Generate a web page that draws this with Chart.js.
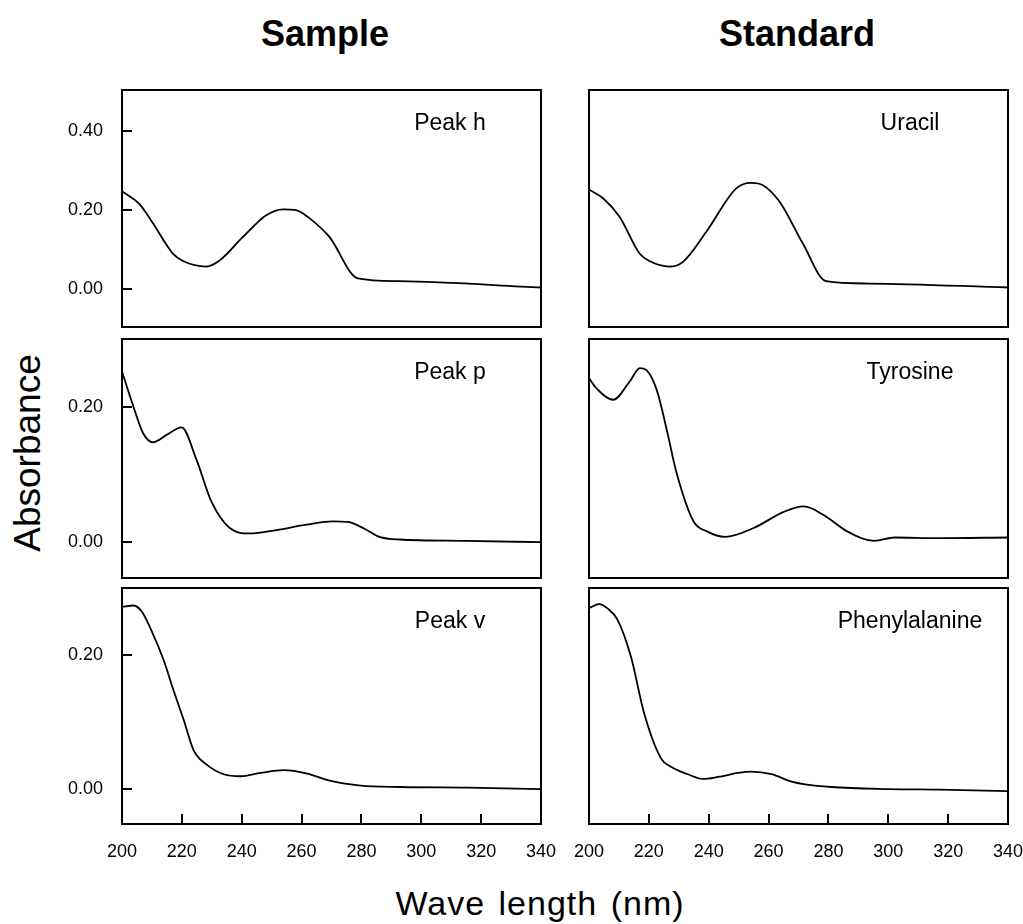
<!DOCTYPE html>
<html><head><meta charset="utf-8">
<script src="https://cdn.jsdelivr.net/npm/chart.js@4.4.1/dist/chart.umd.min.js"></script>
<style>
html,body{margin:0;padding:0;background:#fff;}
#wrap{position:relative;width:1023px;height:924px;overflow:hidden;font-family:"Liberation Sans",Arial,Helvetica,sans-serif;color:#000;background:#fff;}
canvas{position:absolute;left:0;top:0;}
.t{position:absolute;white-space:nowrap;}
</style></head><body><div id="wrap">
<div class="t" style="left:325px;top:15.5px;transform:translateX(-50%);font-size:36px;line-height:36px;font-weight:bold;">Sample</div>
<div class="t" style="left:797px;top:15.5px;transform:translateX(-50%);font-size:36px;line-height:36px;font-weight:bold;">Standard</div>
<div class="t" style="left:26.5px;top:453px;transform:translate(-50%,-50%) rotate(-90deg);font-size:37px;line-height:37px;">Absorbance</div>
<div class="t" style="left:540px;top:886px;transform:translateX(-50%);font-size:34px;line-height:34px;letter-spacing:1px;word-spacing:3px;">Wave length (nm)</div>
</div>
<script>
// ---- data ----
const panelLabels = ["Peak h", "Uracil", "Peak p", "Tyrosine", "Peak v", "Phenylalanine"];
const xTickValues = [200, 220, 240, 260, 280, 300, 320, 340];
const yTicksTop = [0.00, 0.20, 0.40];
const yTicksLower = [0.00, 0.20];

const peakH_x = [200, 206, 210.4, 217, 220.4, 228.2, 232.7, 240.4, 248.2, 253.8, 258.2, 262.7, 269.3, 278.8, 292.7, 340];
const peakH_y = [0.248, 0.214, 0.166, 0.090, 0.071, 0.057, 0.073, 0.132, 0.187, 0.202, 0.200, 0.179, 0.132, 0.027, 0.020, 0.004];

const uracil_x = [200, 204.7, 210.2, 216.9, 220.2, 226.9, 231.4, 239.2, 249.2, 254.2, 258.1, 263.7, 271.4, 279.2, 293.7, 340];
const uracil_y = [0.252, 0.230, 0.183, 0.090, 0.071, 0.057, 0.069, 0.145, 0.255, 0.269, 0.263, 0.221, 0.116, 0.020, 0.014, 0.004];

const peakP_x = [200, 203.8, 207.1, 210.4, 214.9, 219.9, 224.9, 229.9, 236, 242.7, 251.6, 261.6, 270.4, 275.5, 281, 286, 292.7, 314.9, 340];
const peakP_y = [0.253, 0.201, 0.161, 0.148, 0.159, 0.170, 0.122, 0.060, 0.021, 0.013, 0.018, 0.026, 0.031, 0.030, 0.020, 0.008, 0.004, 0.002, 0.000];

const tyrosine_x = [200, 202.5, 208.1, 213.6, 217, 219.2, 222.6, 226, 229.3, 234.9, 239.4, 245.5, 255, 265.1, 271.8, 278.5, 286.3, 295.3, 302, 316.5, 340];
const tyrosine_y = [0.243, 0.228, 0.211, 0.238, 0.258, 0.255, 0.226, 0.166, 0.102, 0.031, 0.016, 0.008, 0.021, 0.045, 0.053, 0.040, 0.016, 0.002, 0.007, 0.006, 0.007];

const peakV_x = [200, 203.8, 206.6, 210.5, 213.9, 217.2, 220.6, 223.9, 228.4, 234, 239.6, 246.3, 254.1, 261.9, 269.8, 279.8, 293.3, 315.6, 340];
const peakV_y = [0.271, 0.273, 0.264, 0.229, 0.192, 0.147, 0.103, 0.058, 0.036, 0.022, 0.019, 0.024, 0.028, 0.023, 0.012, 0.005, 0.003, 0.002, 0.000];

const phe_x = [200, 203.4, 206.1, 209.5, 214, 218.4, 224, 227.4, 233, 238, 243.1, 249.8, 254.3, 261, 267.7, 272.2, 281, 300, 317, 340];
const phe_y = [0.269, 0.275, 0.269, 0.252, 0.197, 0.113, 0.046, 0.033, 0.022, 0.015, 0.018, 0.024, 0.026, 0.022, 0.011, 0.007, 0.003, 0.000, -0.001, -0.003];

// ---- layout ----
const W = 1023, H = 924, YW = 100, XH = 60;
const FONT = '"Liberation Sans", Arial, Helvetica, sans-serif';
const cols = [{l: 122, r: 541}, {l: 589, r: 1008}];
const rows = [
  {t: 90, b: 327, min: -0.096, max: 0.504, ticks: yTicksTop},
  {t: 339, b: 578, min: -0.053, max: 0.301, ticks: yTicksLower},
  {t: 588, b: 824, min: -0.052, max: 0.299, ticks: yTicksLower}
];
const series = [[peakH_x, peakH_y], [uracil_x, uracil_y], [peakP_x, peakP_y], [tyrosine_x, tyrosine_y], [peakV_x, peakV_y], [phe_x, phe_y]];
const labelCenters = [450, 910];

const framePlugin = {
  id: 'frame',
  afterDraw(chart, args, opts) {
    const ctx = chart.ctx, a = chart.chartArea;
    ctx.save();
    ctx.strokeStyle = '#000';
    ctx.lineWidth = 2;
    ctx.strokeRect(a.left, a.top, a.right - a.left, a.bottom - a.top);
    if (opts.yTicks) {
      const s = chart.scales.y;
      s.ticks.forEach(t => {
        const p = Math.round(s.getPixelForValue(t.value));
        ctx.beginPath(); ctx.moveTo(a.left, p); ctx.lineTo(a.left + 10, p); ctx.stroke();
      });
    }
    if (opts.xTicks) {
      const s = chart.scales.x;
      s.ticks.forEach(t => {
        if (t.value <= s.min || t.value >= s.max) return;
        const p = Math.round(s.getPixelForValue(t.value));
        ctx.beginPath(); ctx.moveTo(p, a.bottom); ctx.lineTo(p, a.bottom - 10); ctx.stroke();
      });
    }
    ctx.restore();
  }
};

const wrap = document.getElementById('wrap');
series.forEach((sr, i) => {
  const ci = i % 2, ri = Math.floor(i / 2);
  const c = cols[ci], r = rows[ri];
  const cv = document.createElement('canvas');
  cv.width = W; cv.height = H;
  cv.style.width = W + 'px'; cv.style.height = H + 'px';
  wrap.appendChild(cv);
  const pts = sr[0].map((x, k) => ({x: x, y: sr[1][k]}));
  const showY = ci === 0, showX = ri === 2;
  new Chart(cv.getContext('2d'), {
    type: 'line',
    data: {datasets: [{data: pts, borderColor: '#000', borderWidth: 1.8, pointRadius: 0, fill: false, cubicInterpolationMode: 'monotone'}]},
    options: {
      responsive: false, animation: false, devicePixelRatio: 1,
      layout: {padding: {left: c.l - YW, right: W - c.r, top: r.t, bottom: H - r.b - XH}},
      plugins: {legend: {display: false}, tooltip: {enabled: false}, frame: {yTicks: showY, xTicks: showX}},
      scales: {
        x: {
          type: 'linear', min: 200, max: 340,
          afterBuildTicks: s => { s.ticks = xTickValues.map(v => ({value: v})); },
          afterFit: s => { s.height = XH; s.paddingLeft = 0; s.paddingRight = 0; },
          grid: {display: false, drawTicks: false}, border: {display: false},
          ticks: {display: showX, autoSkip: false, maxRotation: 0, padding: 17, color: '#000',
                  font: {family: FONT, size: 18}, callback: v => String(v)}
        },
        y: {
          type: 'linear', min: r.min, max: r.max,
          afterBuildTicks: s => { s.ticks = r.ticks.map(v => ({value: v})); },
          afterFit: s => { s.width = YW; s.paddingTop = 0; s.paddingBottom = 0; },
          grid: {display: false, drawTicks: false}, border: {display: false},
          ticks: {display: showY, autoSkip: false, padding: 19, color: '#000',
                  font: {family: FONT, size: 18}, callback: v => Number(v).toFixed(2)}
        }
      }
    },
    plugins: [framePlugin]
  });
  const lb = document.createElement('div');
  lb.className = 't';
  lb.textContent = panelLabels[i];
  lb.style.cssText = 'left:' + labelCenters[ci] + 'px;top:' + (r.t + 20.5) + 'px;transform:translateX(-50%);font-size:23px;line-height:23px;';
  wrap.appendChild(lb);
});
</script>
</body></html>
